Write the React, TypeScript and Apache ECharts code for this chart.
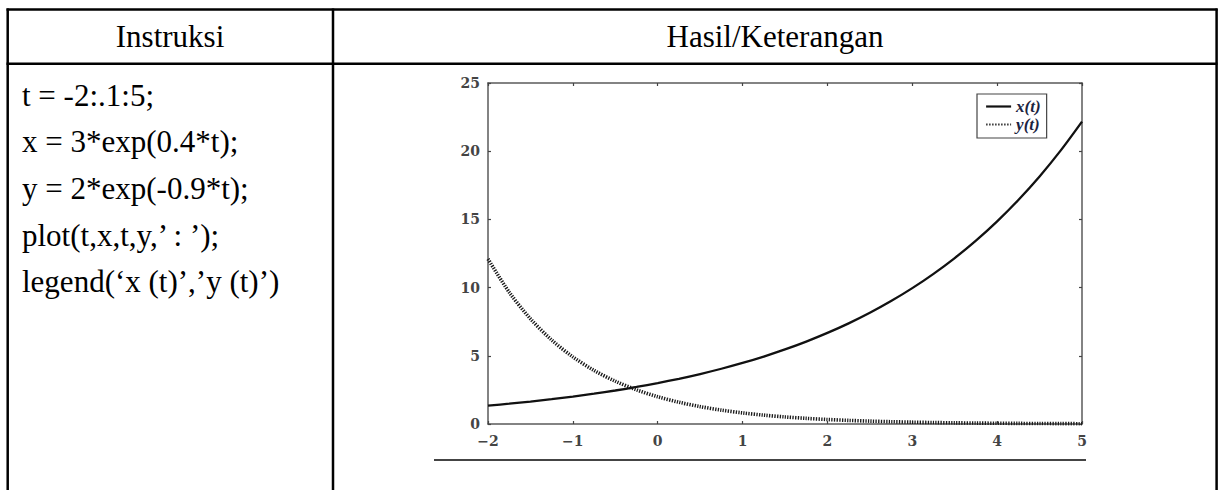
import React, { useEffect, useRef } from "react";
import * as echarts from "echarts";

const tValues = [
  -2, -1.75, -1.5, -1.25, -1, -0.75, -0.5, -0.25, 0, 0.25, 0.5, 0.75, 1, 1.25, 1.5,
  1.75, 2, 2.25, 2.5, 2.75, 3, 3.25, 3.5, 3.75, 4, 4.25, 4.5, 4.75, 5,
];
const xValues = [
  1.348, 1.49, 1.646, 1.82, 2.011, 2.222, 2.456, 2.715, 3.0, 3.316, 3.664, 4.05, 4.475,
  4.946, 5.466, 6.041, 6.677, 7.379, 8.155, 9.013, 9.96, 11.008, 12.166, 13.445, 14.859,
  16.422, 18.149, 20.058, 22.167,
];
const yValues = [
  12.099, 9.661, 7.715, 6.16, 4.919, 3.928, 3.137, 2.505, 2.0, 1.597, 1.275, 1.018, 0.813,
  0.649, 0.518, 0.414, 0.331, 0.264, 0.211, 0.168, 0.134, 0.107, 0.086, 0.068, 0.055,
  0.044, 0.035, 0.028, 0.022,
];
const seriesNames = ["x(t)", "y(t)"];
const headerLabels = ["Instruksi", "Hasil/Keterangan"];
const codeLines = [
  "t = -2:.1:5;",
  "x = 3*exp(0.4*t);",
  "y = 2*exp(-0.9*t);",
  "plot(t,x,t,y,\u2019 : \u2019);",
  "legend(\u2018x (t)\u2019,\u2019y (t)\u2019)",
];

const TABLE_FONT = "'Liberation Serif', 'Times New Roman', serif";
const TICK_FONT = "'DejaVu Serif', serif";

export default function App() {
  const ref = useRef<HTMLDivElement>(null);

  useEffect(() => {
    if (!ref.current) return;
    const chart = echarts.init(ref.current, undefined, { renderer: "svg" });

    const lineStroke = { stroke: "#000", lineWidth: 2.5 };
    const graphics: any[] = [
      { type: "line", shape: { x1: 6.5, y1: 9.5, x2: 1217.5, y2: 9.5 }, style: lineStroke },
      { type: "line", shape: { x1: 6.5, y1: 63.8, x2: 1217.5, y2: 63.8 }, style: lineStroke },
      { type: "line", shape: { x1: 7.7, y1: 8.5, x2: 7.7, y2: 490 }, style: lineStroke },
      { type: "line", shape: { x1: 333, y1: 8.5, x2: 333, y2: 490 }, style: lineStroke },
      { type: "line", shape: { x1: 1216.6, y1: 8.5, x2: 1216.6, y2: 490 }, style: lineStroke },
      {
        type: "line",
        shape: { x1: 434, y1: 460, x2: 1086, y2: 460 },
        style: { stroke: "#444", lineWidth: 2 },
      },
      {
        type: "text",
        x: 170,
        y: 36,
        style: {
          text: headerLabels[0],
          fontFamily: TABLE_FONT,
          fontSize: 31,
          fill: "#000",
          align: "center",
          verticalAlign: "middle",
        },
      },
      {
        type: "text",
        x: 775,
        y: 36,
        style: {
          text: headerLabels[1],
          fontFamily: TABLE_FONT,
          fontSize: 31,
          fill: "#000",
          align: "center",
          verticalAlign: "middle",
        },
      },
      ...codeLines.map((line, i) => ({
        type: "text",
        x: 22,
        y: 95 + i * 46.7,
        style: {
          text: line,
          fontFamily: TABLE_FONT,
          fontSize: 31,
          fill: "#000",
          align: "left",
          verticalAlign: "middle",
        },
      })),
    ];

    const axisLine = { show: true, onZero: false, lineStyle: { color: "#5a5a5a", width: 1.5 } };
    const axisTick = { show: true, inside: true, length: 3, lineStyle: { color: "#444", width: 1.2 } };
    const tickLabel = {
      fontFamily: TICK_FONT,
      fontSize: 14,
      fontWeight: "bold" as const,
      color: "#444",
      formatter: (v: number) => String(v).replace("-", "\u2212"),
    };

    chart.setOption({
      animation: false,
      backgroundColor: "#fff",
      graphic: graphics,
      grid: { left: 488, top: 83, width: 594, height: 341, containLabel: false },
      legend: {
        orient: "vertical",
        left: 977,
        top: 94,
        itemWidth: 25,
        itemHeight: 14,
        itemGap: 1,
        padding: [4, 6, 5, 8],
        borderColor: "#444",
        borderWidth: 1.2,
        borderRadius: 0,
        backgroundColor: "#fff",
        itemStyle: { color: "rgba(0,0,0,0)", borderWidth: 0, opacity: 0 },
        textStyle: {
          fontFamily: TABLE_FONT,
          fontStyle: "italic",
          fontWeight: "bold",
          fontSize: 17,
          color: "#1c2340",
        },
        data: [
          { name: seriesNames[0], lineStyle: { color: "#111", width: 2.2, type: "solid" } },
          { name: seriesNames[1], lineStyle: { color: "#333", width: 2, type: [1.5, 1.5] } },
        ],
      },
      xAxis: [
        {
          type: "value",
          min: -2,
          max: 5,
          interval: 1,
          position: "bottom",
          axisLine,
          axisTick,
          splitLine: { show: false },
          axisLabel: { ...tickLabel, margin: 10 },
        },
        {
          type: "value",
          min: -2,
          max: 5,
          interval: 1,
          position: "top",
          axisLine,
          axisTick,
          splitLine: { show: false },
          axisLabel: { show: false },
        },
      ],
      yAxis: [
        {
          type: "value",
          min: 0,
          max: 25,
          interval: 5,
          position: "left",
          axisLine,
          axisTick,
          splitLine: { show: false },
          axisLabel: { ...tickLabel, margin: 8 },
        },
        {
          type: "value",
          min: 0,
          max: 25,
          interval: 5,
          position: "right",
          axisLine,
          axisTick,
          splitLine: { show: false },
          axisLabel: { show: false },
        },
      ],
      series: [
        {
          name: seriesNames[0],
          type: "line",
          xAxisIndex: 0,
          yAxisIndex: 0,
          smooth: 0.3,
          symbol: "none",
          data: tValues.map((t, i) => [t, xValues[i]]),
          lineStyle: { color: "#111", width: 2.3 },
          itemStyle: { color: "#111" },
          z: 3,
        },
        {
          name: seriesNames[1],
          type: "line",
          xAxisIndex: 0,
          yAxisIndex: 0,
          smooth: 0.3,
          symbol: "none",
          data: tValues.map((t, i) => [t, yValues[i]]),
          lineStyle: { color: "#1a1a1a", width: 3.6, type: [1.3, 1.3] },
          itemStyle: { color: "#1a1a1a" },
          z: 2,
        },
      ],
    });

    return () => chart.dispose();
  }, []);

  return (
    <div
      ref={ref}
      style={{ position: "absolute", left: 0, top: 0, width: 1218, height: 490 }}
    />
  );
}
